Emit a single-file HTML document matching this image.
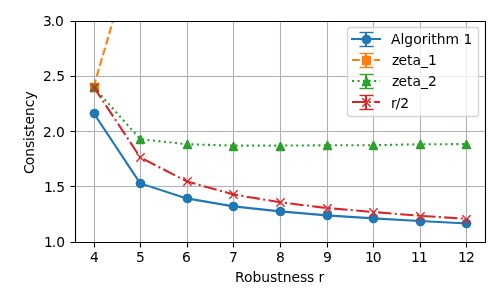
<!DOCTYPE html>
<html lang="en"><head><meta charset="utf-8"><title>Consistency vs Robustness</title>
<style>html,body{margin:0;padding:0;background:#fff;overflow:hidden}svg text{fill:#000;white-space:pre}</style></head>
<body>
<svg width="500" height="300" viewBox="0 0 500 300" style="display:block">
<defs><clipPath id="ax"><rect x="75" y="21" width="410" height="221"/></clipPath></defs>
<rect width="500" height="300" fill="#fff"/>
<path d="M94.5 21.5V242.5M140.5 21.5V242.5M187.5 21.5V242.5M233.5 21.5V242.5M280.5 21.5V242.5M327.5 21.5V242.5M373.5 21.5V242.5M420.5 21.5V242.5M466.5 21.5V242.5M75.5 242.5H485.5M75.5 186.5H485.5M75.5 131.5H485.5M75.5 76.5H485.5M75.5 21.5H485.5" fill="none" stroke="#b0b0b0" stroke-width="1.1111" clip-path="url(#ax)"/>
<path d="M94.5 242.5V247.5M140.5 242.5V247.5M187.5 242.5V247.5M233.5 242.5V247.5M280.5 242.5V247.5M327.5 242.5V247.5M373.5 242.5V247.5M420.5 242.5V247.5M466.5 242.5V247.5M70.5 242.5H75.5M70.5 186.5H75.5M70.5 131.5H75.5M70.5 76.5H75.5M70.5 21.5H75.5" fill="none" stroke="#000" stroke-width="1.1111"/>
<text x="89.900" y="262" style="font-family:'DejaVu Sans','Liberation Sans',sans-serif;font-size:13.8889px">4</text>
<text x="135.900" y="262" style="font-family:'DejaVu Sans','Liberation Sans',sans-serif;font-size:13.8889px">5</text>
<text x="181.900" y="262" style="font-family:'DejaVu Sans','Liberation Sans',sans-serif;font-size:13.8889px">6</text>
<text x="228.900" y="262" style="font-family:'DejaVu Sans','Liberation Sans',sans-serif;font-size:13.8889px">7</text>
<text x="275.900" y="262" style="font-family:'DejaVu Sans','Liberation Sans',sans-serif;font-size:13.8889px">8</text>
<text x="322.900" y="262" style="font-family:'DejaVu Sans','Liberation Sans',sans-serif;font-size:13.8889px">9</text>
<text x="364.900 372.775" y="262" style="font-family:'DejaVu Sans','Liberation Sans',sans-serif;font-size:13.8889px">10</text>
<text x="411.000 418.875" y="262" style="font-family:'DejaVu Sans','Liberation Sans',sans-serif;font-size:13.8889px">11</text>
<text x="458.000 465.875" y="262" style="font-family:'DejaVu Sans','Liberation Sans',sans-serif;font-size:13.8889px">12</text>
<text x="43.900 51.775 56.150" y="247" style="font-family:'DejaVu Sans','Liberation Sans',sans-serif;font-size:13.8889px">1.0</text>
<text x="43.900 51.775 56.150" y="192" style="font-family:'DejaVu Sans','Liberation Sans',sans-serif;font-size:13.8889px">1.5</text>
<text x="42.900 51.650 56.025" y="137" style="font-family:'DejaVu Sans','Liberation Sans',sans-serif;font-size:13.8889px">2.0</text>
<text x="43.000 51.750 56.125" y="81" style="font-family:'DejaVu Sans','Liberation Sans',sans-serif;font-size:13.8889px">2.5</text>
<text x="42.900 50.650 55.025" y="26" style="font-family:'DejaVu Sans','Liberation Sans',sans-serif;font-size:13.8889px">3.0</text>
<text x="234.900 243.900 252.400 261.275 270.025 277.150 282.650 291.400 299.900 307.025 314.150 318.525" y="282" style="font-family:'DejaVu Sans','Liberation Sans',sans-serif;font-size:13.8889px">Robustness r</text>
<text x="0.000 8.750 17.250 26.000 33.125 37.000 44.125 49.625 58.125 66.875 74.500" y="0" transform="translate(34 174.000) rotate(-90)" style="font-family:'DejaVu Sans','Liberation Sans',sans-serif;font-size:13.8889px">Consistency</text>
<g clip-path="url(#ax)">
<path d="M93.636 112.980L140.227 183.370L186.818 198.390L233.409 206.350L280.000 211.400L326.591 215.410L373.182 218.400L419.773 221.050L466.364 223.370" fill="none" stroke="#1f77b4" stroke-width="2.0833" stroke-linejoin="round" stroke-linecap="square"/>
<circle cx="94.5" cy="113.5" r="4.8611" fill="#1f77b4"/>
<circle cx="140.5" cy="183.5" r="4.8611" fill="#1f77b4"/>
<circle cx="187.5" cy="198.5" r="4.8611" fill="#1f77b4"/>
<circle cx="233.5" cy="206.5" r="4.8611" fill="#1f77b4"/>
<circle cx="280.5" cy="211.5" r="4.8611" fill="#1f77b4"/>
<circle cx="327.5" cy="215.5" r="4.8611" fill="#1f77b4"/>
<circle cx="373.5" cy="218.5" r="4.8611" fill="#1f77b4"/>
<circle cx="420.5" cy="221.5" r="4.8611" fill="#1f77b4"/>
<circle cx="466.5" cy="223.5" r="4.8611" fill="#1f77b4"/>
<path d="M93.636 86.900L140.227 -72.220" fill="none" stroke="#ff7f0e" stroke-width="2.0833" stroke-linejoin="round" stroke-dasharray="7.7083,3.3333"/>
<rect x="90.5000" y="83.5000" width="8.0000" height="8.0000" fill="#ff7f0e" stroke="#ff7f0e" stroke-width="1.3889" stroke-linejoin="bevel"/>
<path d="M93.636 86.900L140.227 139.200L186.818 144.210L233.409 145.600L280.000 145.600L326.591 145.300L373.182 145.200L419.773 144.300L466.364 144.090" fill="none" stroke="#2ca02c" stroke-width="2.0833" stroke-linejoin="round" stroke-dasharray="2.0833,3.4375"/>
<path d="M94.5 83.3333L90.3333 91.6667L98.6667 91.6667Z" fill="#2ca02c" stroke="#2ca02c" stroke-width="1.3889" stroke-linejoin="bevel"/>
<path d="M140.5 135.3333L136.3333 143.6667L144.6667 143.6667Z" fill="#2ca02c" stroke="#2ca02c" stroke-width="1.3889" stroke-linejoin="bevel"/>
<path d="M187.5 140.3333L183.3333 148.6667L191.6667 148.6667Z" fill="#2ca02c" stroke="#2ca02c" stroke-width="1.3889" stroke-linejoin="bevel"/>
<path d="M233.5 142.3333L229.3333 150.6667L237.6667 150.6667Z" fill="#2ca02c" stroke="#2ca02c" stroke-width="1.3889" stroke-linejoin="bevel"/>
<path d="M280.5 142.3333L276.3333 150.6667L284.6667 150.6667Z" fill="#2ca02c" stroke="#2ca02c" stroke-width="1.3889" stroke-linejoin="bevel"/>
<path d="M327.5 141.3333L323.3333 149.6667L331.6667 149.6667Z" fill="#2ca02c" stroke="#2ca02c" stroke-width="1.3889" stroke-linejoin="bevel"/>
<path d="M373.5 141.3333L369.3333 149.6667L377.6667 149.6667Z" fill="#2ca02c" stroke="#2ca02c" stroke-width="1.3889" stroke-linejoin="bevel"/>
<path d="M420.5 140.3333L416.3333 148.6667L424.6667 148.6667Z" fill="#2ca02c" stroke="#2ca02c" stroke-width="1.3889" stroke-linejoin="bevel"/>
<path d="M466.5 140.3333L462.3333 148.6667L470.6667 148.6667Z" fill="#2ca02c" stroke="#2ca02c" stroke-width="1.3889" stroke-linejoin="bevel"/>
<path d="M93.636 86.900L140.227 157.400L186.818 181.380L233.409 194.420L280.000 202.260L326.591 208.010L373.182 212.000L419.773 215.800L466.364 218.800" fill="none" stroke="#d62728" stroke-width="2.0833" stroke-linejoin="round" stroke-dasharray="13.3333,3.3333,2.0833,3.3333"/>
<path d="M90.3333 83.3333L98.6667 91.6667M90.3333 91.6667L98.6667 83.3333" fill="none" stroke="#d62728" stroke-width="1.3889"/>
<path d="M136.3333 153.3333L144.6667 161.6667M136.3333 161.6667L144.6667 153.3333" fill="none" stroke="#d62728" stroke-width="1.3889"/>
<path d="M183.3333 177.3333L191.6667 185.6667M183.3333 185.6667L191.6667 177.3333" fill="none" stroke="#d62728" stroke-width="1.3889"/>
<path d="M229.3333 190.3333L237.6667 198.6667M229.3333 198.6667L237.6667 190.3333" fill="none" stroke="#d62728" stroke-width="1.3889"/>
<path d="M276.3333 198.3333L284.6667 206.6667M276.3333 206.6667L284.6667 198.3333" fill="none" stroke="#d62728" stroke-width="1.3889"/>
<path d="M323.3333 204.3333L331.6667 212.6667M323.3333 212.6667L331.6667 204.3333" fill="none" stroke="#d62728" stroke-width="1.3889"/>
<path d="M369.3333 208.3333L377.6667 216.6667M369.3333 216.6667L377.6667 208.3333" fill="none" stroke="#d62728" stroke-width="1.3889"/>
<path d="M416.3333 212.3333L424.6667 220.6667M416.3333 220.6667L424.6667 212.3333" fill="none" stroke="#d62728" stroke-width="1.3889"/>
<path d="M462.3333 215.3333L470.6667 223.6667M462.3333 223.6667L470.6667 215.3333" fill="none" stroke="#d62728" stroke-width="1.3889"/>
</g>
<path d="M75.5 242.5V21.5M485.5 242.5V21.5M75.5 242.5H485.5M75.5 21.5H485.5" fill="none" stroke="#000" stroke-width="1.1111" stroke-linecap="square"/>
<rect x="347.500" y="27.500" width="131.000" height="89.000" rx="2.778" fill="#fff" stroke="#ccc" stroke-width="1.3889" opacity="0.8"/>
<path d="M366 32V46" fill="none" stroke="#1f77b4" stroke-width="2.0833"/>
<path d="M359.5 46.5H373.5" fill="none" stroke="#1f77b4" stroke-width="1.3889"/>
<path d="M359.5 32.5H373.5" fill="none" stroke="#1f77b4" stroke-width="1.3889"/>
<path d="M352 39H380" fill="none" stroke="#1f77b4" stroke-width="2.0833" stroke-linecap="square"/>
<circle cx="366.5" cy="39.5" r="4.8611" fill="#1f77b4"/>
<text x="390.900 400.400 404.275 413.150 421.650 427.400 431.275 436.775 445.525 459.025 463.400" y="44" style="font-family:'DejaVu Sans','Liberation Sans',sans-serif;font-size:13.8889px">Algorithm 1</text>
<path d="M366 53V67" fill="none" stroke="#ff7f0e" stroke-width="2.0833"/>
<path d="M359.5 67.5H373.5" fill="none" stroke="#ff7f0e" stroke-width="1.3889"/>
<path d="M359.5 53.5H373.5" fill="none" stroke="#ff7f0e" stroke-width="1.3889"/>
<path d="M352 60H380" fill="none" stroke="#ff7f0e" stroke-width="2.0833" stroke-dasharray="7.7083,3.3333"/>
<rect x="362.5000" y="56.5000" width="8.0000" height="8.0000" fill="#ff7f0e" stroke="#ff7f0e" stroke-width="1.3889" stroke-linejoin="bevel"/>
<text x="392.000 398.375 406.875 412.375 421.000 428.000" y="65" style="font-family:'DejaVu Sans','Liberation Sans',sans-serif;font-size:13.8889px">zeta_1</text>
<path d="M366 74V88" fill="none" stroke="#2ca02c" stroke-width="2.0833"/>
<path d="M359.5 88.5H373.5" fill="none" stroke="#2ca02c" stroke-width="1.3889"/>
<path d="M359.5 74.5H373.5" fill="none" stroke="#2ca02c" stroke-width="1.3889"/>
<path d="M352 81H380" fill="none" stroke="#2ca02c" stroke-width="2.0833" stroke-dasharray="2.0833,3.4375"/>
<path d="M366.5 77.3333L362.3333 85.6667L370.6667 85.6667Z" fill="#2ca02c" stroke="#2ca02c" stroke-width="1.3889" stroke-linejoin="bevel"/>
<text x="392.000 398.375 406.875 412.375 421.000 428.000" y="86" style="font-family:'DejaVu Sans','Liberation Sans',sans-serif;font-size:13.8889px">zeta_2</text>
<path d="M366 95V109" fill="none" stroke="#d62728" stroke-width="2.0833"/>
<path d="M359.5 109.5H373.5" fill="none" stroke="#d62728" stroke-width="1.3889"/>
<path d="M359.5 95.5H373.5" fill="none" stroke="#d62728" stroke-width="1.3889"/>
<path d="M352 102H380" fill="none" stroke="#d62728" stroke-width="2.0833" stroke-dasharray="13.3333,3.3333,2.0833,3.3333"/>
<path d="M362.3333 98.3333L370.6667 106.6667M362.3333 106.6667L370.6667 98.3333" fill="none" stroke="#d62728" stroke-width="1.3889"/>
<text x="390.900 395.650 400.275" y="108" style="font-family:'DejaVu Sans','Liberation Sans',sans-serif;font-size:13.8889px">r/2</text>
</svg>
</body></html>
